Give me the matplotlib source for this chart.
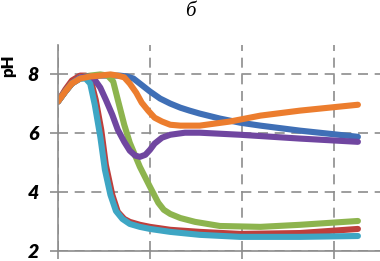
import matplotlib
matplotlib.use("Agg")
from matplotlib import pyplot as plt

# series (x in grid units, y = pH)
blue_x = [0, 0.08, 0.15, 0.24, 0.35, 0.46, 0.57, 0.67, 0.75, 0.82, 0.89, 1.0, 1.11, 1.22,
          1.33, 1.43, 1.54, 1.76, 1.98, 2.2, 2.63, 3.26]
blue_y = [7.08, 7.42, 7.69, 7.86, 7.93, 7.96, 7.96, 7.96, 7.93, 7.86, 7.69, 7.42, 7.18, 7.01,
          6.87, 6.77, 6.67, 6.5, 6.36, 6.26, 6.09, 5.88]

red_x = [0, 0.08, 0.15, 0.24, 0.3, 0.36, 0.41, 0.47, 0.52, 0.59, 0.65, 0.72, 0.78, 0.89,
         1.0, 1.22, 1.54, 1.98, 2.63, 3.26]
red_y = [7.08, 7.49, 7.79, 7.96, 7.96, 7.76, 7.14, 6.12, 4.93, 3.91, 3.33, 3.09, 2.99, 2.89,
         2.82, 2.72, 2.65, 2.58, 2.61, 2.75]

green_x = [0, 0.08, 0.15, 0.24, 0.35, 0.46, 0.54, 0.6, 0.65, 0.72, 0.78, 0.89, 1.0, 1.09,
           1.15, 1.22, 1.33, 1.49, 1.76, 2.2, 2.63, 3.26]
green_y = [7.08, 7.42, 7.69, 7.9, 7.96, 8.0, 7.96, 7.76, 7.14, 6.29, 5.68, 4.86, 4.18, 3.64,
           3.4, 3.26, 3.12, 2.99, 2.85, 2.82, 2.89, 3.02]

purple_x = [0, 0.08, 0.15, 0.24, 0.33, 0.39, 0.46, 0.52, 0.59, 0.65, 0.72, 0.78, 0.84, 0.89,
            0.95, 1.0, 1.05, 1.13, 1.22, 1.38, 1.54, 1.98, 2.63, 3.26]
purple_y = [7.08, 7.42, 7.69, 7.9, 7.93, 7.86, 7.55, 7.14, 6.63, 6.12, 5.71, 5.41, 5.24, 5.2,
            5.27, 5.44, 5.65, 5.85, 5.95, 6.02, 6.02, 5.95, 5.82, 5.71]

teal_x = [0, 0.08, 0.15, 0.24, 0.3, 0.35, 0.4, 0.46, 0.51, 0.57, 0.63, 0.7, 0.78, 0.89,
          1.0, 1.22, 1.54, 1.98, 2.63, 3.26]
teal_y = [7.08, 7.42, 7.69, 7.86, 7.86, 7.69, 6.97, 5.88, 4.76, 3.91, 3.36, 3.09, 2.92, 2.82,
          2.75, 2.65, 2.55, 2.48, 2.48, 2.51]

orange_x = [0, 0.08, 0.15, 0.24, 0.35, 0.46, 0.57, 0.65, 0.72, 0.78, 0.85, 0.91, 0.98, 1.05,
            1.13, 1.22, 1.33, 1.54, 1.87, 2.2, 2.63, 3.26]
orange_y = [7.08, 7.42, 7.69, 7.86, 7.93, 7.96, 8.0, 7.96, 7.9, 7.69, 7.38, 7.04, 6.77, 6.53,
            6.4, 6.29, 6.26, 6.26, 6.4, 6.6, 6.77, 6.97]

series = [
    (blue_x, blue_y, "#3f6fb6"),
    (red_x, red_y, "#be3f3c"),
    (green_x, green_y, "#8db44e"),
    (purple_x, purple_y, "#7046a0"),
    (teal_x, teal_y, "#3ea6c4"),
    (orange_x, orange_y, "#ec7d2e"),
]

y_ticks = [2, 4, 6, 8]
x_ticks = [0, 1, 2, 3]


def main():
    fig = plt.figure(figsize=(3.8, 2.61), dpi=100)
    ax = fig.add_axes([58 / 380, 10 / 261, 322 / 380, 206 / 261])

    for xs, ys, col in series:
        ax.plot(xs, ys, color=col, lw=4.4, solid_capstyle="round", solid_joinstyle="round")

    ax.set_xlim(0, 3.5)
    ax.set_ylim(2, 9)
    ax.set_xticks(x_ticks)
    ax.set_xticklabels([])
    ax.set_yticks(y_ticks)
    ax.set_yticklabels([str(v) for v in y_ticks], fontsize=14, fontweight="heavy",
                       fontstyle="italic", family=["Lato", "DejaVu Sans"])
    ax.tick_params(axis="both", color="#8c8c8c", length=6, width=1.2)
    ax.tick_params(axis="y", pad=8)

    ax.grid(True, color="#8c8c8c", ls=(0, (6, 4)), lw=1.2)
    for s in ["top", "right"]:
        ax.spines[s].set_visible(False)
    for s in ["left", "bottom"]:
        ax.spines[s].set_color("#8c8c8c")
        ax.spines[s].set_linewidth(1.2)

    fig.text(8 / 380, 1 - 66 / 261, "pH", rotation=90, ha="center", va="center",
             fontsize=12, fontweight="heavy", family=["Lato", "DejaVu Sans"])
    fig.text(190 / 380, 1 - 12 / 261, "б", ha="center", va="center",
             fontsize=15, fontstyle="italic", family=["Liberation Serif", "DejaVu Serif"])

    fig.savefig("out.png", dpi=100)


if __name__ == "__main__":
    main()
